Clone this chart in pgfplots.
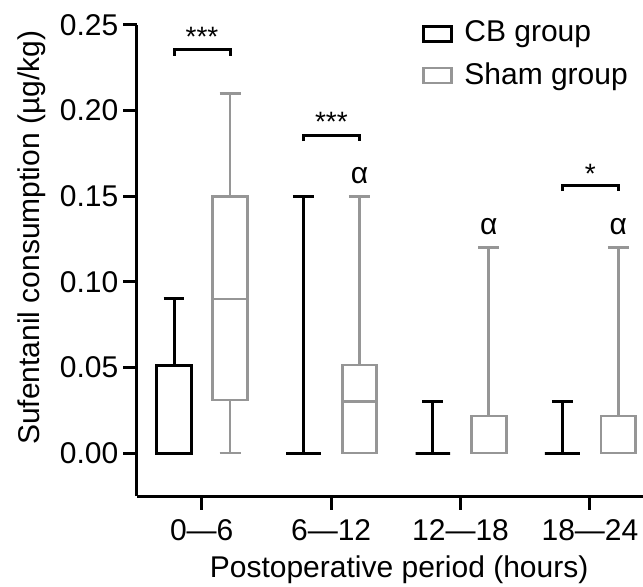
\documentclass[border=0pt]{standalone}
\usepackage{fontspec}
\setmainfont{Liberation Sans}
\usepackage{pgfplots}
\pgfplotsset{compat=1.18}
\usepgfplotslibrary{statistics}
\definecolor{shamgray}{RGB}{150,150,150}
\begin{document}
\fontsize{30bp}{36bp}\selectfont
\begin{tikzpicture}
\begin{axis}[
  scale only axis, width=506bp, height=471bp,
  xmin=-0.5, xmax=3.41, ymin=-0.0251, ymax=0.25,
  axis lines=left,
  axis line style={-, line width=3bp, black},
  xtick={0,1,2,3}, xticklabels={0—6,6—12,12—18,18—24},
  ytick={0,0.05,0.10,0.15,0.20,0.25},
  tick align=outside,
  major tick length=13.5bp,
  every tick/.style={line width=3bp, black},
  /pgf/number format/assume math mode=true,
  yticklabel style={/pgf/number format/.cd, fixed, fixed zerofill, precision=2, /tikz/.cd, inner sep=0pt, xshift=-5bp},
  xticklabel style={inner sep=0pt, anchor=base, yshift=-31bp},
  every axis y label/.style={at={(axis description cs:-0.208,0.548)}, rotate=90, anchor=center},
  every axis x label/.style={at={(axis description cs:0.518,-0.174)}, anchor=base},
  ylabel={Sufentanil consumption (µg/kg)},
  xlabel={Postoperative period (hours)},
  clip=false,
  boxplot/draw direction=y,
  boxplot/box extend=0.267,
  boxplot/whisker extend=0.162,
  legend style={at={(rel axis cs:0.563,1.0127)}, anchor=north west, draw=none, fill=none, inner sep=0pt, outer sep=0pt, row sep=12bp, nodes={inner sep=2bp}},
  legend cell align=left,
  legend image code/.code={\draw[#1] (0bp,-7.5bp) rectangle (28bp,7.5bp); \path[draw=none] (0bp,0bp) -- (39bp,0bp);},
]
\addlegendimage{draw=black, line width=3bp}
\addlegendentry{CB group}
\addlegendimage{draw=shamgray, line width=2.8bp}
\addlegendentry{Sham group}

% CB group
\addplot[draw=black, line width=3bp, boxplot prepared={draw position=-0.214, lower whisker=0, lower quartile=0, median=0, upper quartile=0.0514, upper whisker=0.09}, boxplot/median/.style={line width=4.5bp}] coordinates {};
\addplot[draw=black, line width=3bp, boxplot prepared={draw position=0.786, lower whisker=0, lower quartile=0, median=0, upper quartile=0, upper whisker=0.15}] coordinates {};
\addplot[draw=black, line width=3bp, boxplot prepared={draw position=1.786, lower whisker=0, lower quartile=0, median=0, upper quartile=0, upper whisker=0.03}] coordinates {};
\addplot[draw=black, line width=3bp, boxplot prepared={draw position=2.786, lower whisker=0, lower quartile=0, median=0, upper quartile=0, upper whisker=0.03}] coordinates {};
% Sham group
\addplot[draw=shamgray, line width=2.8bp, boxplot prepared={draw position=0.219, lower whisker=0, lower quartile=0.031, median=0.09, upper quartile=0.15, upper whisker=0.21}] coordinates {};
\addplot[draw=shamgray, line width=2.8bp, boxplot prepared={draw position=1.219, lower whisker=0, lower quartile=0, median=0.03, upper quartile=0.0514, upper whisker=0.15}] coordinates {};
\addplot[draw=shamgray, line width=2.8bp, boxplot prepared={draw position=2.219, lower whisker=0, lower quartile=0, median=0, upper quartile=0.0216, upper whisker=0.12}, boxplot/median/.style={line width=4bp}] coordinates {};
\addplot[draw=shamgray, line width=2.8bp, boxplot prepared={draw position=3.219, lower whisker=0, lower quartile=0, median=0, upper quartile=0.0216, upper whisker=0.12}, boxplot/median/.style={line width=4bp}] coordinates {};

% significance brackets
\draw[line width=3bp] (axis cs:-0.214,0.2319) -- (axis cs:-0.214,0.2354) -- (axis cs:0.219,0.2354) -- (axis cs:0.219,0.2319);
\draw[line width=3bp] (axis cs:0.786,0.1822) -- (axis cs:0.786,0.1857) -- (axis cs:1.219,0.1857) -- (axis cs:1.219,0.1822);
\draw[line width=3bp] (axis cs:2.786,0.1530) -- (axis cs:2.786,0.1565) -- (axis cs:3.219,0.1565) -- (axis cs:3.219,0.1530);
\node[anchor=south, inner sep=3bp, font=\fontsize{28bp}{30bp}\selectfont] at (axis cs:0.0025,0.2354) {***};
\node[anchor=south, inner sep=3bp, font=\fontsize{28bp}{30bp}\selectfont] at (axis cs:1.0025,0.1857) {***};
\node[anchor=south, inner sep=1bp, font=\fontsize{28bp}{30bp}\selectfont] at (axis cs:3.0025,0.1565) {*};
\node[anchor=base, inner sep=0pt] at (axis cs:1.219,0.1575) {α};
\node[anchor=base, inner sep=0pt] at (axis cs:2.219,0.1278) {α};
\node[anchor=base, inner sep=0pt] at (axis cs:3.219,0.1278) {α};
\end{axis}
\pgfresetboundingbox
\path (-137bp,-91bp) rectangle (506bp,496bp);
\end{tikzpicture}
\end{document}
